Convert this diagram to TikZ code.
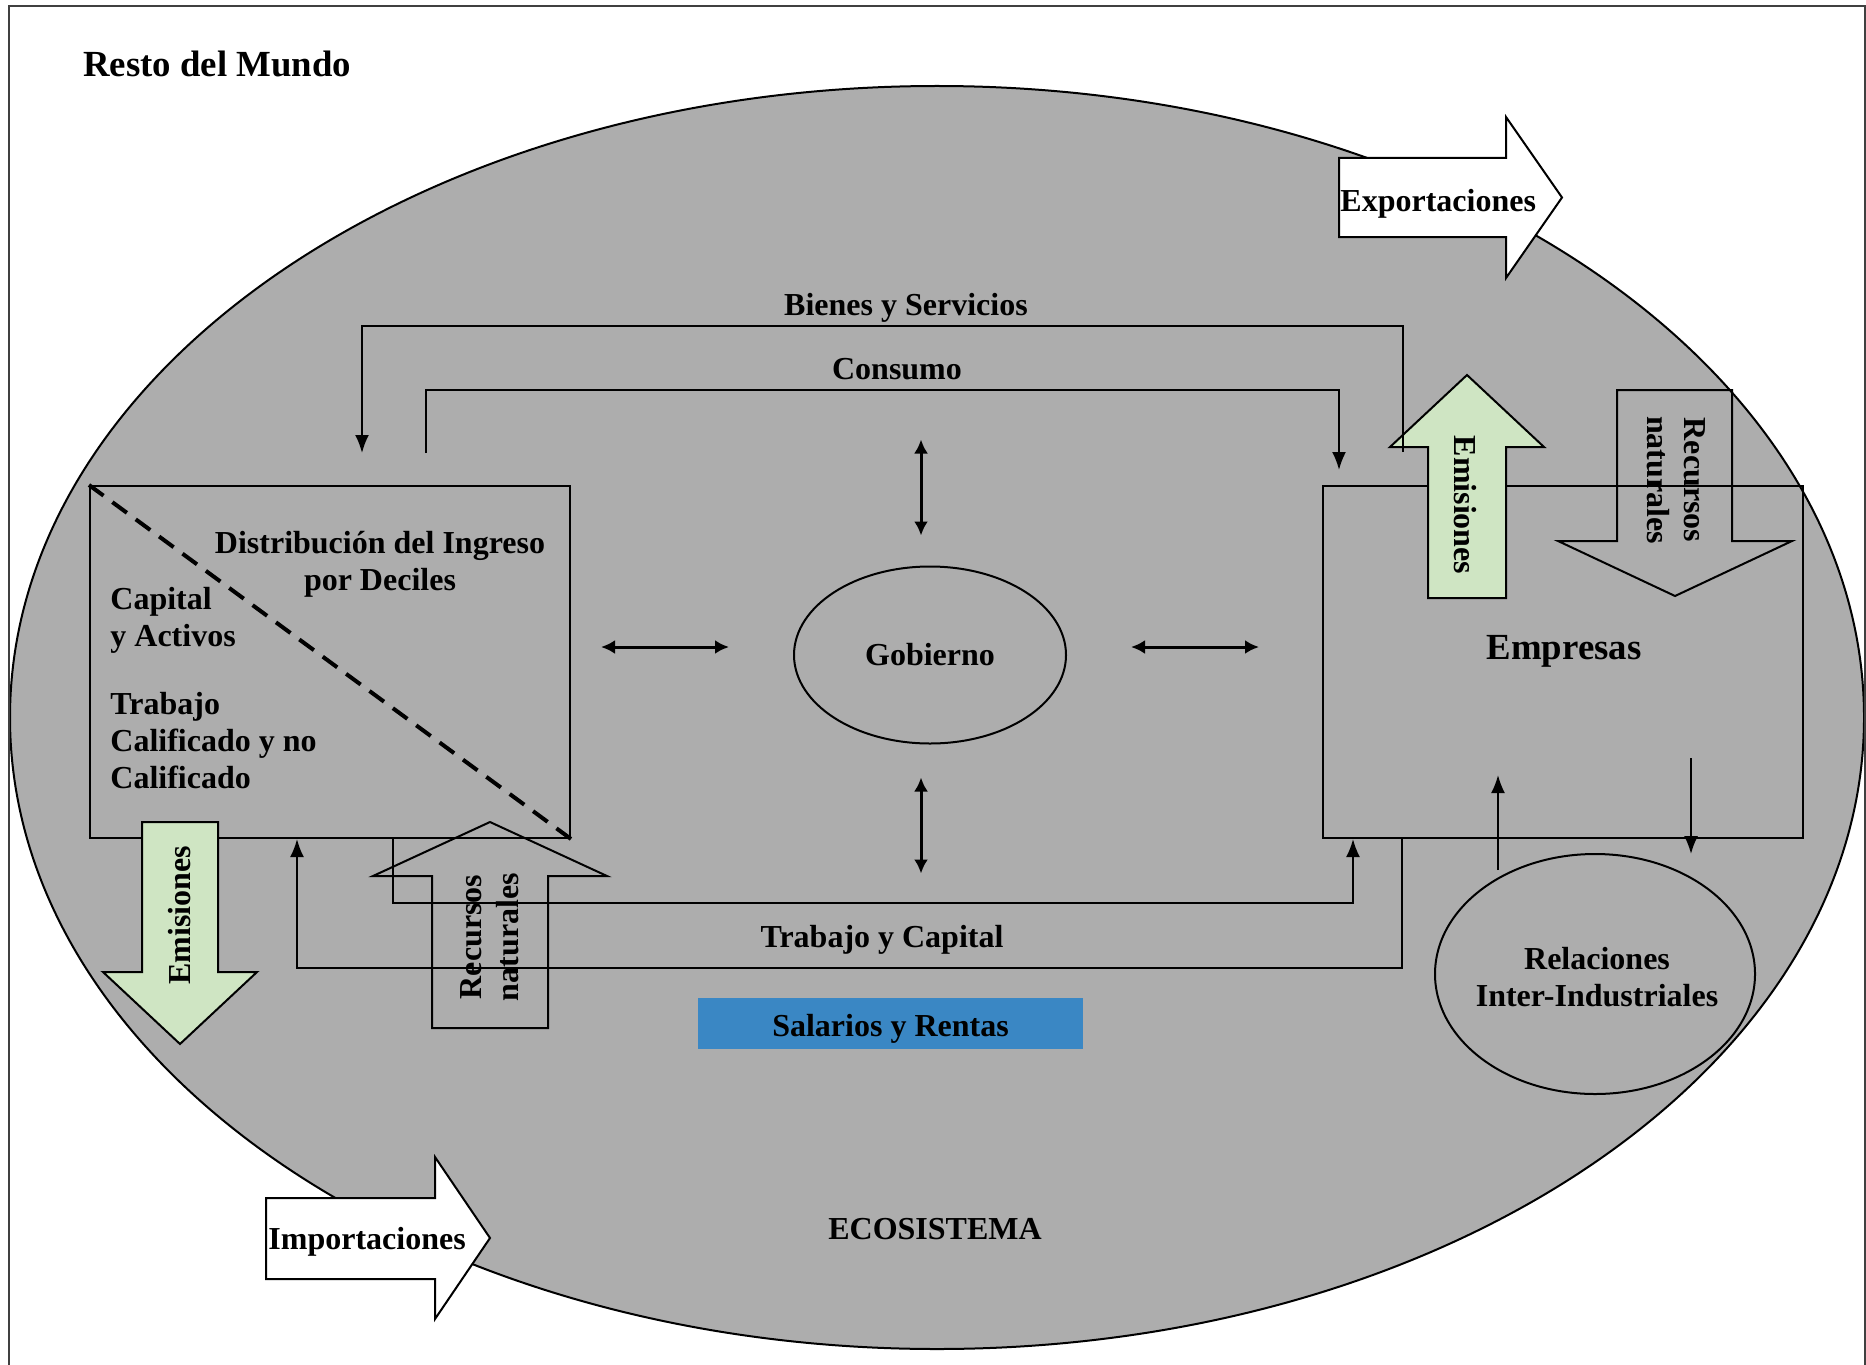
\documentclass[tikz,border=0pt]{standalone}
\usepackage{fontspec}
\setmainfont{Liberation Serif}
\usetikzlibrary{arrows.meta,positioning,calc,shapes.geometric}
\definecolor{ecogris}{RGB}{173,173,173}
\definecolor{verdeemi}{RGB}{207,229,195}
\definecolor{azulsal}{RGB}{58,135,196}
\tikzstyle{lbl}=[inner sep=0pt,font=\fontsize{16}{18.5}\selectfont\bfseries]
\tikzstyle{biglbl}=[inner sep=0pt,font=\fontsize{18.4}{21}\selectfont\bfseries]
\tikzstyle{sector}=[draw,line width=1pt,minimum width=240pt,minimum height=176pt,inner sep=0pt]
\tikzstyle{oval}=[ellipse,draw,line width=1pt,inner sep=0pt]
\tikzstyle{bigarrow}=[draw,line width=1pt,line join=miter]
\tikzstyle{flow}=[line width=1pt,-{Latex[length=9pt,width=7pt]}]
\tikzstyle{dbl}=[line width=1.5pt,{Latex[length=7pt,width=7pt]}-{Latex[length=7pt,width=7pt]}]

\begin{document}
\begin{tikzpicture}[x=0.5pt,y=-0.5pt]
\useasboundingbox (0,0) rectangle (1866,1364);
\node [oval,fill=ecogris,minimum width=927pt,minimum height=631.5pt] (eco) at (937,717.5) {};
\draw [line width=1pt,black!75] (9,6) rectangle (1865,1372);
\node [biglbl,anchor=base west] (rdm) at (83,77) {Resto del Mundo};

\node [sector] (hog) at (330,662) {};
\node [sector] (emp) at (1563,662) {};
\draw [line width=2pt,dash pattern=on 9pt off 5.5pt] (hog.north west) -- (hog.south east);
\node [lbl,align=center] (dist) at (380,564) {Distribución del Ingreso\\por Deciles};
\node [lbl,align=left,anchor=west] (cap) at (110,620) {Capital\\y Activos};
\node [lbl,align=left,anchor=west] (trab) at (110,741) {Trabajo\\Calificado y no\\Calificado};
\node [biglbl,anchor=base] (emptxt) at (1564,659) {Empresas};

\node [oval,lbl,minimum width=136pt,minimum height=88.5pt] (gob) at (930,655) {Gobierno};
\node [oval,minimum width=160pt,minimum height=120pt] (rel) at (1595,974) {};
\node [lbl,align=center] (reltxt) at (1597,977) {Relaciones\\Inter-Industriales};
\node [lbl,fill=azulsal,minimum width=192.5pt,minimum height=25.5pt,text height=12.5pt,text depth=0pt] (syr) at (890.5,1023.5) {Salarios y Rentas};
\node [lbl,anchor=base] (ecotxt) at (935,1239) {ECOSISTEMA};

\draw [bigarrow,fill=verdeemi] (142,822) -- (218,822) -- (218,972) -- (257,972) -- (180,1044) -- (103,972) -- (142,972) -- cycle;
\node [lbl,rotate=90] (emi1) at (180,915) {Emisiones};
\draw [bigarrow,fill=verdeemi] (1428,598) -- (1506,598) -- (1506,447) -- (1544,447) -- (1467,375) -- (1390,447) -- (1428,447) -- cycle;
\node [lbl,rotate=-90] (emi2) at (1465,505) {Emisiones};

\draw [bigarrow] (432,1028) -- (548,1028) -- (548,876) -- (607,876) -- (490,822) -- (373,876) -- (432,876) -- cycle;
\node [lbl,rotate=90,align=center] (rn1) at (490,937) {Recursos\\naturales};
\draw [bigarrow] (1617,390) -- (1732,390) -- (1732,541) -- (1792,541) -- (1675,596) -- (1558,541) -- (1617,541) -- cycle;
\node [lbl,rotate=-90,align=center] (rn2) at (1676,480) {Recursos\\naturales};

\draw [bigarrow,fill=white] (1339,158) -- (1506,158) -- (1506,117) -- (1562,197.5) -- (1506,278) -- (1506,237) -- (1339,237) -- cycle;
\node [lbl,anchor=base west] (exp) at (1340,212) {Exportaciones};
\draw [bigarrow,fill=white] (266,1198) -- (435,1198) -- (435,1157) -- (490,1238) -- (435,1319) -- (435,1279) -- (266,1279) -- cycle;
\node [lbl,anchor=base west] (imp) at (268,1249) {Importaciones};

\coordinate (bs1) at (1403,452);
\coordinate (bs2) at (362,453);
\draw [flow] (bs1) -- ++(0,-126) -| (bs2);
\node [lbl,anchor=base] (bys) at (906,315) {Bienes y Servicios};
\coordinate (co1) at (426,453);
\coordinate (co2) at (1339,470);
\draw [flow] (co1) -- ++(0,-63) -| (co2);
\node [lbl,anchor=base] (cons) at (897,379) {Consumo};
\draw [flow] ($(hog.south west)+(304,0)$) -- ++(0,64) -| ($(emp.south west)+(31,0)$);
\draw [flow] ($(emp.south west)+(80,0)$) -- ++(0,129) -| ($(hog.south west)+(208,0)$);
\node [lbl,anchor=base] (tyc) at (882,947.5) {Trabajo y Capital};

\draw [dbl] ($(gob.north)+(-9,-126)$) -- ($(gob.north)+(-9,-30)$);
\draw [dbl] ($(gob.south)+(-9,33)$) -- ($(gob.south)+(-9,129)$);
\draw [dbl] ($(gob.west)+(-192,-8)$) -- ($(gob.west)+(-64,-8)$);
\draw [dbl] ($(gob.east)+(64,-8)$) -- ($(gob.east)+(192,-8)$);
\draw [flow] ($(rel.north)+(-97,17)$) -- ++(0,-95);
\draw [flow] ($(rel.north)+(96,-95)$) -- ++(0,96);
\end{tikzpicture}
\end{document}
